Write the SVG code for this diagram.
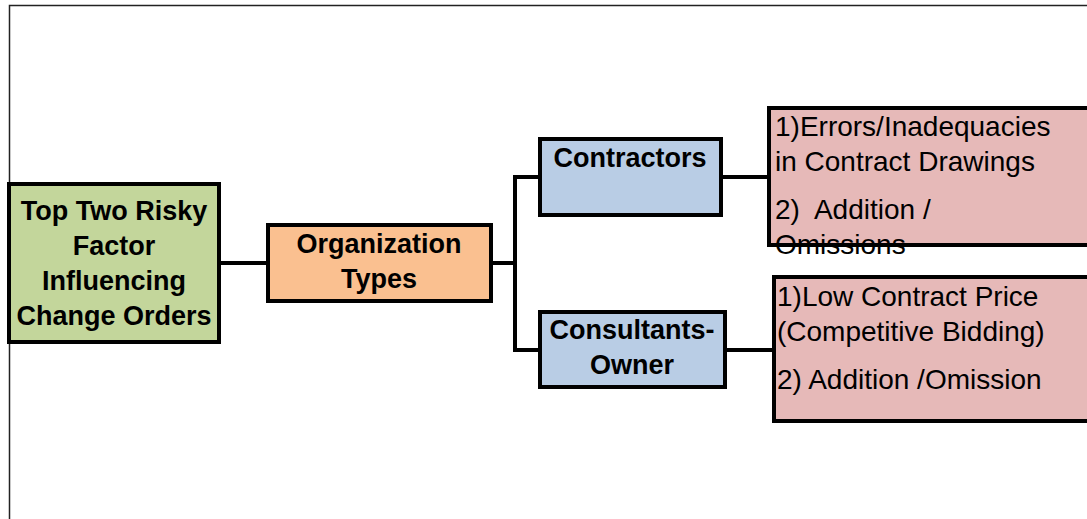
<svg xmlns="http://www.w3.org/2000/svg" width="1087" height="519" viewBox="0 0 1087 519">
  <style>
    .box { stroke: #000; stroke-width: 4; }
    .root { fill: #C3D69B; }
    .org { fill: #FAC090; }
    .type { fill: #B9CDE5; }
    .risk { fill: #E6B9B8; }
    .bold { font-family: "Liberation Sans", Arial, sans-serif; font-weight: bold; font-size: 27px; fill: #000; text-anchor: middle; }
    .plain { font-family: "Liberation Sans", Arial, sans-serif; font-size: 28px; fill: #000; white-space: pre; }
    .link { fill: none; stroke: #000; stroke-width: 4; }
    .frame { fill: none; stroke: #222; stroke-width: 1.5; }
  </style>
  <rect width="1087" height="519" fill="#fff"/>
  <!-- outer frame -->
  <path class="frame" d="M9.5 519 V5.5 H1087"/>

  <!-- connectors -->
  <g id="connectors">
    <path class="link" d="M219 263 H268"/>
    <path class="link" d="M491 263 H515"/>
    <path class="link" d="M515 177 V350"/>
    <path class="link" d="M513 177 H540"/>
    <path class="link" d="M513 350 H540"/>
    <path class="link" d="M721 177 H769"/>
    <path class="link" d="M725 350 H774"/>
  </g>

  <g id="root">
    <rect class="box root" x="9" y="184" width="210" height="158"/>
    <text class="bold" x="114" y="220">Top Two Risky</text>
    <text class="bold" x="114" y="255">Factor</text>
    <text class="bold" x="114" y="290">Influencing</text>
    <text class="bold" x="114" y="325">Change Orders</text>
  </g>

  <g id="organization-types">
    <rect class="box org" x="268" y="225" width="223" height="76"/>
    <text class="bold" x="379" y="253">Organization</text>
    <text class="bold" x="379" y="288">Types</text>
  </g>

  <g id="contractors">
    <rect class="box type" x="540" y="139" width="181" height="76"/>
    <text class="bold" x="630" y="167">Contractors</text>
  </g>

  <g id="consultants-owner">
    <rect class="box type" x="540" y="312" width="185" height="75"/>
    <text class="bold" x="632" y="339">Consultants-</text>
    <text class="bold" x="632" y="374">Owner</text>
  </g>

  <g id="contractor-risks">
    <rect class="box risk" x="769" y="108" width="320" height="137"/>
    <text class="plain" x="775" y="136">1)Errors/Inadequacies</text>
    <text class="plain" x="775" y="171">in Contract Drawings</text>
    <text class="plain" x="775" y="219" xml:space="preserve">2)  Addition /</text>
    <text class="plain" x="775" y="254">Omissions</text>
  </g>

  <g id="consultant-risks">
    <rect class="box risk" x="774" y="277" width="315" height="144"/>
    <text class="plain" x="777" y="306">1)Low Contract Price</text>
    <text class="plain" x="777" y="341">(Competitive Bidding)</text>
    <text class="plain" x="777" y="389">2) Addition /Omission</text>
  </g>
</svg>
